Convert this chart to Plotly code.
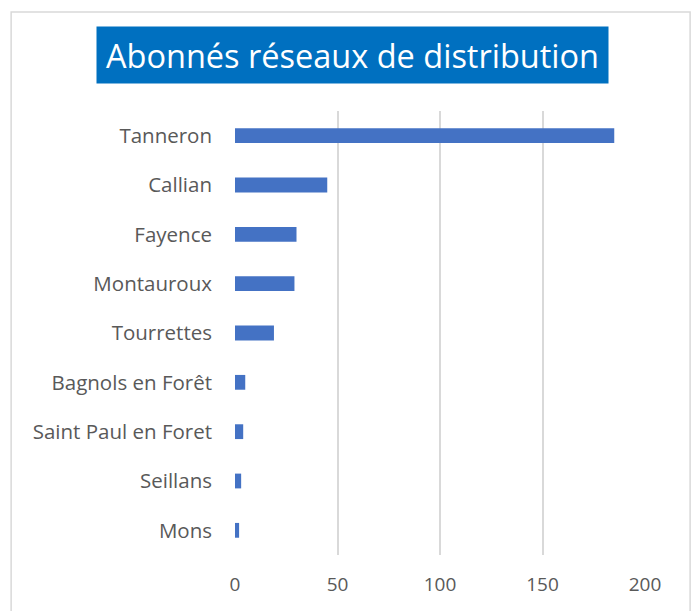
import plotly.graph_objects as go

# Abonnés par commune (réseaux de distribution)
communes = ["Tanneron", "Callian", "Fayence", "Montauroux", "Tourrettes",
            "Bagnols en Forêt", "Saint Paul en Foret", "Seillans", "Mons"]
abonnes = [185, 45, 30, 29, 19, 5, 4, 3, 2]
x_ticks = [0, 50, 100, 150, 200]
titre = "Abonnés réseaux de distribution"

FONT = "Open Sans"
GRIS_TEXTE = "#595959"

fig = go.Figure(
    go.Bar(
        x=abonnes,
        y=communes,
        orientation="h",
        marker=dict(color="#4472C4", line=dict(width=0)),
    )
)

fig.update_layout(
    width=695,
    height=611,
    margin=dict(l=235, r=50, t=111, b=56),
    paper_bgcolor="white",
    plot_bgcolor="white",
    bargap=0.7,
    showlegend=False,
    font=dict(family=FONT, color=GRIS_TEXTE, size=18),
)

fig.update_xaxes(
    range=[0, 200],
    tickvals=x_ticks,
    ticktext=[str(v) for v in x_ticks],
    showgrid=True,
    gridcolor="#D9D9D9",
    gridwidth=2,
    zeroline=False,
    showline=False,
    ticks="",
    ticklabelstandoff=16,
    tickfont=dict(size=19, color=GRIS_TEXTE),
    fixedrange=True,
)

fig.update_yaxes(
    categoryorder="array",
    categoryarray=list(reversed(communes)),
    showgrid=False,
    zeroline=False,
    showline=False,
    ticks="",
    ticklabelstandoff=22,
    tickfont=dict(size=20.5, color=GRIS_TEXTE),
    fixedrange=True,
)

# Cadre du graphique
fig.add_shape(
    type="rect", xref="paper", yref="paper",
    x0=-0.546, x1=1.11, y0=-0.3, y1=1.223,
    line=dict(color="#D9D9D9", width=1.5),
    fillcolor="rgba(0,0,0,0)", layer="below",
)

# Titre sur fond bleu
fig.add_annotation(
    text=titre, xref="paper", yref="paper",
    x=0.2866, y=1.126, xanchor="center", yanchor="middle",
    showarrow=False, width=509, height=54,
    bgcolor="#0070C0",
    font=dict(family=FONT, size=32.5, color="white"),
)

fig.write_html("out.html")
